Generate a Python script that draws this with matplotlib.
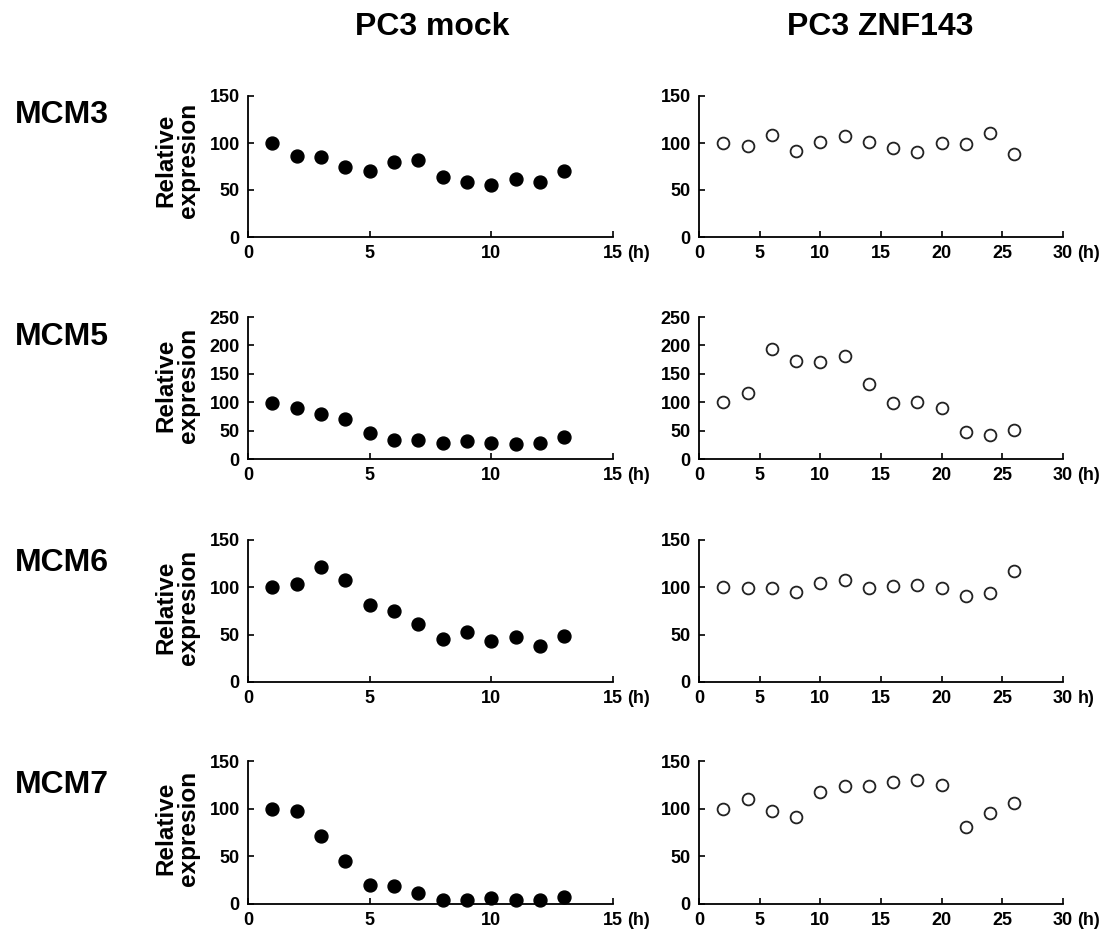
import matplotlib
matplotlib.use("Agg")
import matplotlib.pyplot as plt

plt.rcParams['font.family'] = ['Liberation Sans', 'DejaVu Sans']
plt.rcParams['font.weight'] = 'bold'

genes = ["MCM3", "MCM5", "MCM6", "MCM7"]
conditions = ["PC3 mock", "PC3 ZNF143"]

mock_hours = [1, 2, 3, 4, 5, 6, 7, 8, 9, 10, 11, 12, 13]
znf_hours = [2, 4, 6, 8, 10, 12, 14, 16, 18, 20, 22, 24, 26]

mock_values = {
    "MCM3": [100, 86, 85, 75, 70, 80, 82, 64, 59, 55, 62, 58, 70],
    "MCM5": [99, 90, 79, 71, 46, 34, 34, 29, 31, 29, 27, 29, 38],
    "MCM6": [100, 103, 121, 108, 81, 75, 61, 45, 53, 43, 48, 38, 49],
    "MCM7": [100, 98, 71, 45, 20, 19, 12, 4, 4, 6, 4, 4, 7],
}
znf_values = {
    "MCM3": [100, 97, 109, 91, 101, 107, 101, 95, 90, 100, 99, 111, 88],
    "MCM5": [100, 116, 193, 172, 171, 182, 132, 98, 100, 89, 47, 42, 51],
    "MCM6": [100, 99, 99, 95, 105, 108, 99, 101, 102, 99, 91, 94, 117],
    "MCM7": [100, 110, 98, 91, 117, 124, 124, 128, 130, 125, 81, 95, 106],
}

y_max = {"MCM3": 150, "MCM5": 250, "MCM6": 150, "MCM7": 150}
y_ticks = {"MCM3": [0, 50, 100, 150], "MCM5": [0, 50, 100, 150, 200, 250],
           "MCM6": [0, 50, 100, 150], "MCM7": [0, 50, 100, 150]}
mock_xticks = [0, 5, 10, 15]
znf_xticks = [0, 5, 10, 15, 20, 25, 30]
unit_labels = {"MCM3": "(h)", "MCM5": "(h)", "MCM6": "h)", "MCM7": "(h)"}

W, H = 1109, 935
fig = plt.figure(figsize=(W / 100, H / 100), dpi=100)

rows_px = [(96, 237), (317, 459), (540, 682), (761, 904)]
cols_px = [(248, 613), (699, 1063)]
ylabel_centers = [160, 385, 607, 828]
gene_label_y = [115, 337, 563, 785]

TICK_FS = 13
PAD = 6


def style(ax, xmax, xticks, ymax, yticks):
    ax.set_xlim(0, xmax)
    ax.set_ylim(0, ymax)
    ax.set_xticks(xticks)
    ax.set_yticks(yticks)
    for s in ["top", "right"]:
        ax.spines[s].set_visible(False)
    for s in ["left", "bottom"]:
        ax.spines[s].set_linewidth(1.3)
    ax.tick_params(direction="in", length=4, width=1.2, labelsize=TICK_FS, pad=PAD)
    for lab in ax.get_xticklabels() + ax.get_yticklabels():
        lab.set_fontweight("bold")


for r, gene in enumerate(genes):
    top, bot = rows_px[r]
    for c in range(2):
        x0, x1 = cols_px[c]
        ax = fig.add_axes([x0 / W, 1 - bot / H, (x1 - x0) / W, (bot - top) / H])
        ax.patch.set_alpha(0)
        if c == 0:
            ax.plot(mock_hours, mock_values[gene], "o", color="black",
                    markersize=9.3, clip_on=False)
            style(ax, 15, mock_xticks, y_max[gene], y_ticks[gene])
            unit = "(h)"
        else:
            ax.plot(znf_hours, znf_values[gene], "o", markerfacecolor="white",
                    markeredgecolor="#222222", markeredgewidth=1.3,
                    markersize=8.5, clip_on=False)
            style(ax, 30, znf_xticks, y_max[gene], y_ticks[gene])
            unit = unit_labels[gene]
        ax.annotate(unit, xy=(1, 0), xycoords="axes fraction",
                    xytext=(10.5, -PAD), textcoords="offset points",
                    ha="left", va="top", fontsize=TICK_FS, fontweight="bold")

    fig.text(177 / W, 1 - ylabel_centers[r] / H, "Relative\nexpresion",
             rotation=90, ha="center", va="center", fontsize=17.5,
             fontweight="bold", linespacing=0.95)
    fig.text(15 / W, 1 - gene_label_y[r] / H, gene, ha="left", va="center",
             fontsize=23, fontweight="bold")

fig.text(432 / W, 1 - 27 / H, conditions[0], ha="center", va="center",
         fontsize=23, fontweight="bold")
fig.text(880 / W, 1 - 27 / H, conditions[1], ha="center", va="center",
         fontsize=23, fontweight="bold")

fig.savefig("out.png", dpi=100)
